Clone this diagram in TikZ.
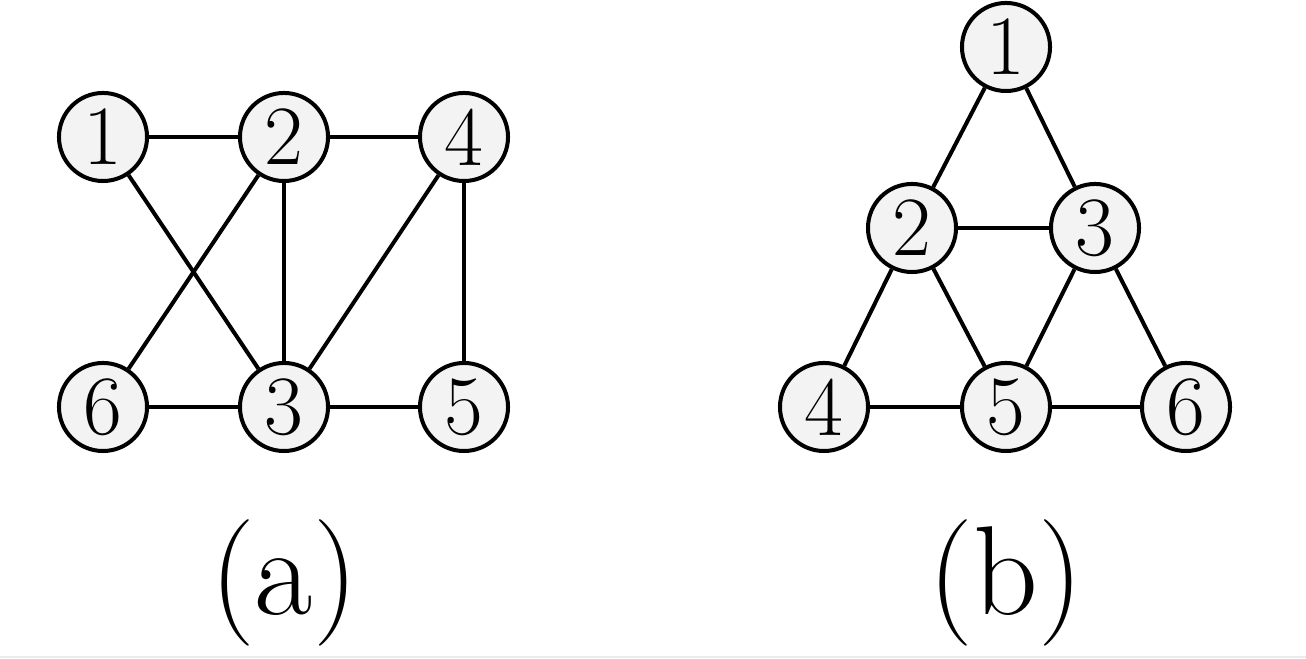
\documentclass[tikz,border=0pt]{standalone}
\usepackage{fontspec}
\definecolor{nodefill}{HTML}{F3F3F3}
\definecolor{edgegray}{HTML}{EBEBEB}
\begin{document}
\begin{tikzpicture}[x=0.01cm,y=-0.01cm,
  vtx/.style={circle,draw=black,fill=nodefill,line width=0.04cm,minimum size=0.88cm,inner sep=0pt,font=\fontsize{24}{28}\selectfont},
  edge/.style={line width=0.04cm,draw=black},
  caption/.style={font=\fontsize{36}{40}\selectfont,inner sep=0pt}]
\useasboundingbox (0,0) rectangle (1306,659);
\draw[edgegray,line width=0.015cm] (0,657) -- (1306,657);
% (a)
\node[vtx] (a1) at (103,137) {1};
\node[vtx] (a2) at (284,137) {2};
\node[vtx] (a4) at (464,137) {4};
\node[vtx] (a6) at (103,407) {6};
\node[vtx] (a3) at (284,407) {3};
\node[vtx] (a5) at (464,407) {5};
\draw[edge] (a1) -- (a2);
\draw[edge] (a2) -- (a4);
\draw[edge] (a1) -- (a3);
\draw[edge] (a2) -- (a6);
\draw[edge] (a2) -- (a3);
\draw[edge] (a4) -- (a3);
\draw[edge] (a4) -- (a5);
\draw[edge] (a6) -- (a3);
\draw[edge] (a3) -- (a5);
\node[caption] (capa) at (284,583) {(a)};
% (b)
\node[vtx] (b1) at (1006,47) {1};
\node[vtx] (b2) at (912,228) {2};
\node[vtx] (b3) at (1095,228) {3};
\node[vtx] (b4) at (824,407) {4};
\node[vtx] (b5) at (1006,407) {5};
\node[vtx] (b6) at (1186,407) {6};
\draw[edge] (b1) -- (b2);
\draw[edge] (b1) -- (b3);
\draw[edge] (b2) -- (b3);
\draw[edge] (b2) -- (b4);
\draw[edge] (b2) -- (b5);
\draw[edge] (b3) -- (b5);
\draw[edge] (b3) -- (b6);
\draw[edge] (b4) -- (b5);
\draw[edge] (b5) -- (b6);
\node[caption] (capb) at (1006,583) {(b)};
\end{tikzpicture}
\end{document}
